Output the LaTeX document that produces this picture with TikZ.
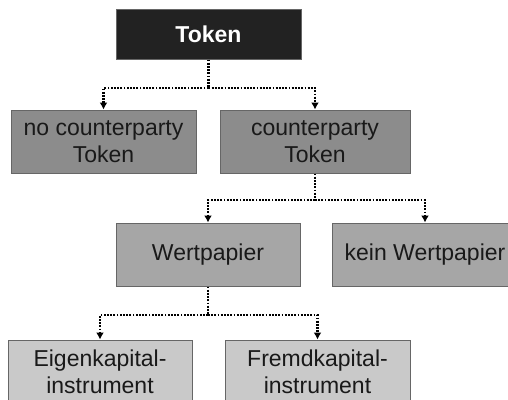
\documentclass[tikz,border=0pt]{standalone}
\usepackage{fontspec}
\setmainfont{Liberation Sans}
\usetikzlibrary{arrows.meta}
\definecolor{tokfill}{HTML}{222222}
\definecolor{lvltwo}{HTML}{8C8C8C}
\definecolor{lvlthree}{HTML}{A6A6A6}
\definecolor{lvlfour}{HTML}{C9C9C9}
\begin{document}
\begin{tikzpicture}[x=1pt,y=-1pt,
    box/.style={rectangle,draw=black!60,line width=1pt,minimum width=185pt,minimum height=63pt,
        align=center,inner sep=0pt,font=\fontsize{23}{27}\selectfont,text=black!90},
    link/.style={line width=2.4pt,dash pattern=on 1.8pt off 1.4pt},
    tip/.style={link,-{Latex[length=7pt,width=8pt]}}]
    \useasboundingbox (0,0) rectangle (508,399);
    \clip (0,0) rectangle (508,399);
        \begin{scope}[every node/.style={box}]
        \node[fill=tokfill,text=white,font=\fontsize{23}{27}\selectfont\bfseries,minimum height=50pt] (tok) at (208.5,34) {Token};
        \node[fill=lvltwo] (noc) at (103.5,141.5) {no counterparty\\Token};
        \node[fill=lvltwo,minimum width=190pt] (cp) at (315,141.5) {counterparty\\Token};
        \node[fill=lvlthree,minimum width=184pt] (wp) at (208,254.5) {Wertpapier};
        \node[fill=lvlthree,minimum width=186pt] (kwp) at (425,254.5) {kein Wertpapier};
        \node[fill=lvlfour,minimum width=184pt] (ek) at (100,371.5) {Eigenkapital-\\instrument};
        \node[fill=lvlfour] (fk) at (317.5,371.5) {Fremdkapital-\\instrument};
        \end{scope}
        \coordinate (j1) at (208.5,88);
        \coordinate (j2) at (315,200);
        \coordinate (j3) at (208,315);
        \draw[link] (tok.south) -- (j1);
        \draw[tip] (j1) -| (noc.north);
        \draw[tip] (j1) -| (cp.north);
        \draw[link] (cp.south) -- (j2);
        \draw[tip] (j2) -| (wp.north);
        \draw[tip] (j2) -| (kwp.north);
        \draw[link] (wp.south) -- (j3);
        \draw[tip] (j3) -| (ek.north);
        \draw[tip] (j3) -| (fk.north);
    \end{tikzpicture}
\end{document}
